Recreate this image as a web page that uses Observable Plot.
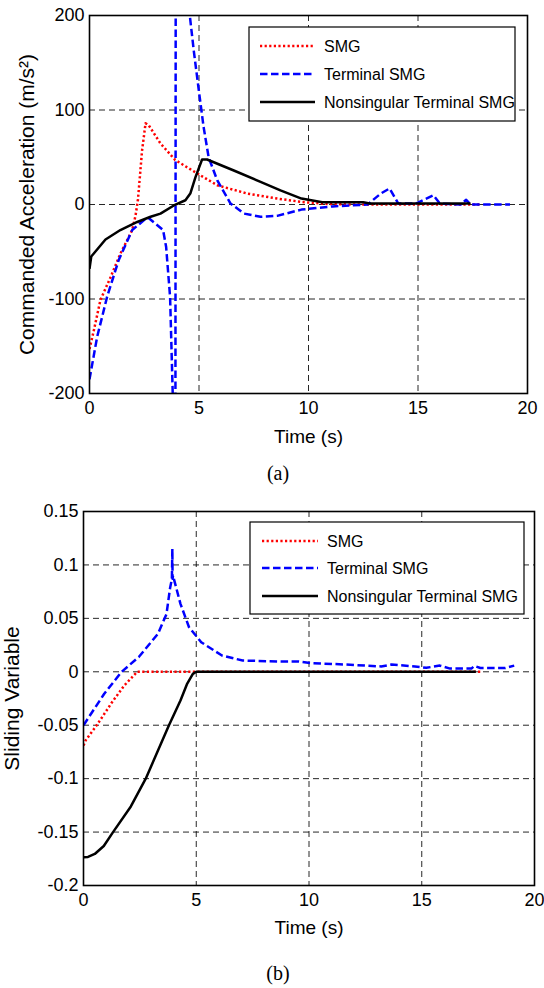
<!DOCTYPE html>
<html><head><meta charset="utf-8">
<script src="https://cdn.jsdelivr.net/npm/d3@7"></script>
<script src="https://cdn.jsdelivr.net/npm/@observablehq/plot@0.6"></script>
<style>
body{margin:0;background:#fff;}
#wrap{position:relative;width:544px;height:988px;background:#fff;overflow:hidden;}
.plot{position:absolute;left:0;}
.cap{position:absolute;left:0;width:556px;text-align:center;font-family:"Liberation Serif","Times New Roman",serif;font-size:20px;line-height:24px;color:#000;}
</style></head><body><div id="wrap"></div>
<script>
// ---------- tick labels ----------
const xTicks = [0, 5, 10, 15, 20];
const yTicksA = [-200, -100, 0, 100, 200];
const yTicksB = [-0.2, -0.15, -0.1, -0.05, 0, 0.05, 0.1, 0.15];
const seriesNames = ["SMG", "Terminal SMG", "Nonsingular Terminal SMG"];

// ---------- (a) commanded acceleration ----------
const tA_smg = [0, 0.2, 0.5, 0.96, 1.41, 1.95, 2.1, 2.21, 2.4, 2.56, 2.7, 3.24, 3.92, 4.91, 5.83, 7.2, 8.57, 9.68, 10.9, 12, 14, 16, 17.8];
const aA_smg = [-153, -133, -101, -77, -52, -27, -12, 4.5, 57, 86, 84, 64.6, 47, 33, 20.4, 11.6, 6.3, 2.7, 0.5, 0, 0, 0, 0];

const tA_tsmg = [0, 0.35, 0.8, 1.33, 1.95, 2.63, 2.74, 3.0, 3.36, 3.5, 3.68, 3.8, 3.86, 3.92, 3.94, 4.4, 4.58, 4.76, 4.99, 5.21, 5.44, 5.83, 6.44, 7.05, 7.81, 8.57, 9.68, 11.1, 12.7, 13.3, 13.7, 14.1, 14.9, 15.7, 16.0, 16.95, 17.2, 17.4, 19.2];
const aA_tsmg = [-185, -140, -98, -59, -27, -13.8, -15, -20, -27, -45, -98, -200, -350, -350, 350, 240, 200, 163, 121, 82, 50, 25.7, 1, -9.6, -13, -12, -5.4, -2, 0, 11.6, 16.9, 1, 1, 9.8, 1, 0, 5, 0, 0];

const tA_ntsmg = [0, 0.08, 0.73, 1.41, 2.18, 2.79, 3.24, 3.85, 4.38, 4.61, 4.84, 5.14, 5.37, 6.59, 7.81, 8.72, 9.68, 10.63, 12.5, 12.8, 17.4];
const aA_ntsmg = [-68, -55, -37, -27, -18.5, -13, -9.6, -1, 4.5, 12, 29, 47.6, 47.6, 36, 24, 15, 6.3, 2.4, 2.4, 1, 1];

// ---------- (b) sliding variable ----------
const tB_smg = [0, 0.1, 0.62, 1.25, 1.8, 2.38, 5, 10, 15, 17.6];
const sB_smg = [-0.069, -0.064, -0.049, -0.029, -0.013, 0, 0, 0, 0, 0];

const tB_tsmg = [0, 0.92, 1.69, 2.46, 3.3, 3.68, 3.84, 3.92, 3.94, 3.95, 3.97, 4.3, 4.68, 5.22, 6.14, 7.06, 8.59, 9.5, 10.13, 11.66, 13.2, 13.66, 14.7, 15.2, 15.8, 16.26, 17.2, 17.34, 17.6, 18.7, 19.1];
const sB_tsmg = [-0.05, -0.0206, 0, 0.014, 0.0355, 0.054, 0.0785, 0.087, 0.115, 0.087, 0.09, 0.0636, 0.0417, 0.0277, 0.0152, 0.0105, 0.0097, 0.0097, 0.008, 0.0068, 0.005, 0.0068, 0.005, 0.0037, 0.0058, 0.003, 0.003, 0.0055, 0.0035, 0.0035, 0.0058];

const tB_ntsmg = [0, 0.2, 0.5, 0.9, 1.31, 2.1, 2.76, 3.38, 3.79, 4.3, 4.6, 4.85, 5.0, 10, 17.4];
const sB_ntsmg = [-0.1735, -0.1733, -0.1705, -0.163, -0.15, -0.126, -0.1, -0.07, -0.05, -0.0269, -0.011, -0.002, 0, 0, 0];

// ---------- styles ----------
const styles = [
  {stroke: "#ff0000", strokeWidth: 2.5, strokeDasharray: "2.2,2.4"},
  {stroke: "#0000ff", strokeWidth: 2.5, strokeDasharray: "7.5,3.5"},
  {stroke: "#000000", strokeWidth: 2.5, strokeDasharray: null}
];

function rows(ts, vs) { return ts.map((t, i) => ({t, v: vs[i]})); }

const FONT = '"Liberation Sans", Arial, Helvetica, sans-serif';

function makePlot(cfg) {
  const lines = cfg.series.map((s, i) =>
    Plot.line(rows(s[0], s[1]), {x: "t", y: "v", clip: true, strokeLinejoin: "round", strokeLinecap: "butt", ...Object.fromEntries(Object.entries(styles[i]).filter(([k, v]) => v != null))}));
  const svg = Plot.plot({
    width: 544, height: cfg.height,
    marginTop: cfg.mt, marginBottom: cfg.mb, marginLeft: cfg.ml, marginRight: cfg.mr,
    style: {fontFamily: FONT, fontSize: "18px", color: "#000", background: "#fff", overflow: "visible"},
    x: {domain: [0, 20]},
    y: {domain: cfg.yDomain},
    marks: [
      Plot.gridX(xTicks, {stroke: "#000", strokeOpacity: 0.85, strokeWidth: 1, strokeDasharray: "6,4"}),
      Plot.gridY(cfg.yTicks, {stroke: "#000", strokeOpacity: 0.85, strokeWidth: 1, strokeDasharray: "6,4"}),
      Plot.axisX(xTicks, {tickSize: 0, tickPadding: 8, tickFormat: d => String(d), label: null, fontSize: 18}),
      Plot.axisY(cfg.yTicks, {tickSize: 0, tickPadding: 5, tickFormat: d => String(d), label: null, fontSize: 18}),
      ...lines,
      Plot.frame({stroke: "#000", strokeWidth: 1.6}),
      Plot.text([cfg.xLabel], {text: d => d, frameAnchor: "bottom", textAnchor: "middle", dy: cfg.xLabelDy, fontSize: 19}),
      Plot.text([cfg.yLabel], {text: d => d, frameAnchor: "left", textAnchor: "middle", dx: cfg.yLabelDx, rotate: -90, fontSize: 21})
    ]
  });
  svg.classList.add("plot");
  svg.style.top = cfg.top + "px";
  // legend box
  const g = d3.select(svg).append("g");
  const L = cfg.legend;
  g.append("rect").attr("x", L.x1).attr("y", L.y1).attr("width", L.x2 - L.x1).attr("height", L.y2 - L.y1)
    .attr("fill", "#fff").attr("stroke", "#000").attr("stroke-width", 1.2);
  seriesNames.forEach((name, i) => {
    const y = L.rows[i];
    const ln = g.append("line").attr("x1", L.lx1).attr("x2", L.lx2).attr("y1", y).attr("y2", y)
      .attr("stroke", styles[i].stroke).attr("stroke-width", styles[i].strokeWidth);
    if (styles[i].strokeDasharray) ln.attr("stroke-dasharray", styles[i].strokeDasharray);
    g.append("text").attr("x", L.tx).attr("y", y).attr("dy", "0.36em").attr("text-anchor", "start")
      .attr("font-family", FONT).attr("font-size", 16).attr("fill", "#000").text(name);
  });
  return svg;
}

const wrap = document.getElementById("wrap");

const topA = 0;
wrap.appendChild(makePlot({
  top: topA, height: 455, mt: 15, mb: 455 - 393, ml: 89, mr: 544 - 527,
  yDomain: [-200, 200], yTicks: yTicksA,
  series: [[tA_smg, aA_smg], [tA_tsmg, aA_tsmg], [tA_ntsmg, aA_ntsmg]],
  xLabel: "Time (s)", xLabelDy: 49,
  yLabel: "Commanded Acceleration (m/s²)", yLabelDx: -62,
  legend: {x1: 249, x2: 515, y1: 27 - topA, y2: 121 - topA, rows: [46, 74, 102].map(v => v - topA), lx1: 260, lx2: 315, tx: 324}
}));

const topB = 495;
wrap.appendChild(makePlot({
  top: topB, height: 455, mt: 511 - topB, mb: 455 - (885 - topB), ml: 83, mr: 544 - 534,
  yDomain: [-0.2, 0.15], yTicks: yTicksB,
  series: [[tB_smg, sB_smg], [tB_tsmg, sB_tsmg], [tB_ntsmg, sB_ntsmg]],
  xLabel: "Time (s)", xLabelDy: 48,
  yLabel: "Sliding Variable", yLabelDx: -71,
  legend: {x1: 250, x2: 524, y1: 522 - topB, y2: 614 - topB, rows: [541, 568, 596].map(v => v - topB), lx1: 262, lx2: 318, tx: 327}
}));

const capA = document.createElement("div");
capA.className = "cap"; capA.style.top = (473 - 12) + "px"; capA.textContent = "(a)";
wrap.appendChild(capA);
const capB = document.createElement("div");
capB.className = "cap"; capB.style.top = (973 - 12) + "px"; capB.textContent = "(b)";
wrap.appendChild(capB);
</script></body></html>
